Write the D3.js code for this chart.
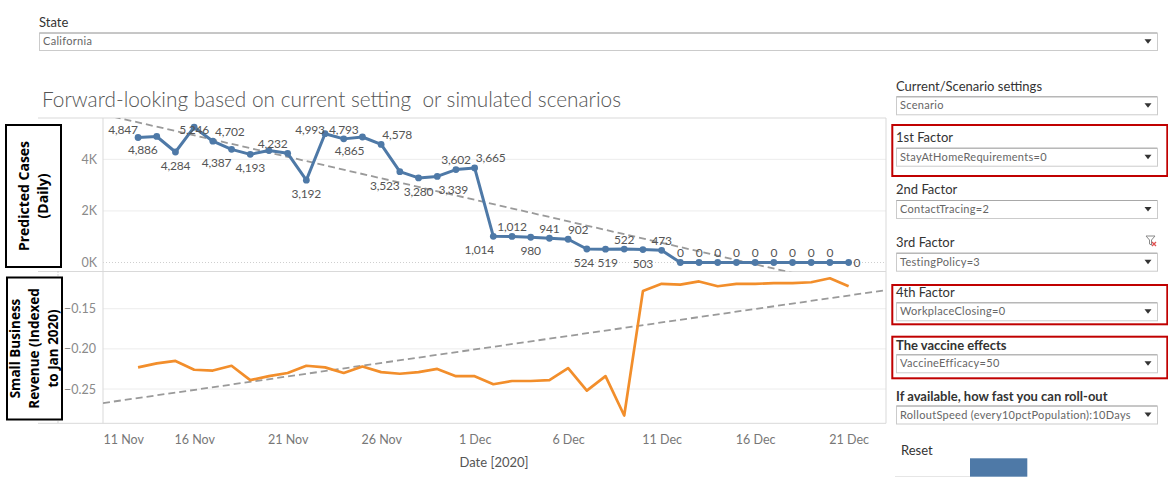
<!DOCTYPE html>
<html>
<head>
<meta charset="utf-8">
<script src="https://cdn.jsdelivr.net/npm/d3@7"></script>
<style>
  body { margin: 0; background: #fff; }
  svg { display: block; font-family: Lato, "Open Sans", sans-serif; }
</style>
</head>
<body>
<svg id="chart" width="1168" height="481"></svg>
<script>
// one value per day, starting at firstDay
const firstDay = "2020-11-13";

const predictedCases = [
  4847, 4886, 4284, 5246, 4702, 4387, 4193, 4340, 4232, 3192,
  4993, 4793, 4865, 4578, 3523, 3280, 3339, 3602, 3665, 1014,
  1012, 980, 941, 902, 524, 519, 522, 503, 473, 0,
  0, 0, 0, 0, 0, 0, 0, 0, 0
];

// where tableau put each mark label: a = above, b = below, r = right, "" = hidden
const caseLabelSide = [
  "a", "b", "b", "a", "a", "b", "b", "", "a", "b",
  "a", "a", "b", "a", "b", "b", "b", "a", "a", "b",
  "a", "b", "a", "a", "b", "b", "a", "b", "a", "a",
  "a", "a", "a", "a", "a", "a", "a", "a", "r"
];
const caseLabelShift = [
  -15, -14, 0, 0, 17, -15, 0, 0, -15, 0,
  -15, 0, -13, 16, -15, 0, 16, 0, 16, -14,
  0, 0, 0, 10, -3, 2, 0, 0, 0, 0,
  0, 0, 0, 0, 0, 0, 0, 0, 0
];

const smallBizRevenue = [
  -0.223, -0.218, -0.215, -0.226, -0.227, -0.221, -0.239, -0.234, -0.230, -0.221,
  -0.223, -0.230, -0.222, -0.229, -0.231, -0.229, -0.225, -0.234, -0.234, -0.244,
  -0.240, -0.240, -0.239, -0.224, -0.252, -0.234, -0.283, -0.128, -0.119, -0.120,
  -0.116, -0.122, -0.119, -0.119, -0.118, -0.118, -0.117, -0.112, -0.122
];

const xTickDates = ["2020-11-11", "2020-11-16", "2020-11-21", "2020-11-26",
  "2020-12-01", "2020-12-06", "2020-12-11", "2020-12-16", "2020-12-21"];
const casesTicks = [0, 2000, 4000];
const revenueTicks = [-0.25, -0.20, -0.15];

const settings = [
  { label: "Current/Scenario settings", value: "Scenario", bold: false },
  { label: "1st Factor", value: "StayAtHomeRequirements=0", bold: false },
  { label: "2nd Factor", value: "ContactTracing=2", bold: false },
  { label: "3rd Factor", value: "TestingPolicy=3", bold: false },
  { label: "4th Factor", value: "WorkplaceClosing=0", bold: false },
  { label: "The vaccine effects", value: "VaccineEfficacy=50", bold: true },
  { label: "If available, how fast you can roll-out", value: "RolloutSpeed (every10pctPopulation):10Days", bold: true }
];

const BLUE = "#4e79a7", ORANGE = "#f28e2b", GRID = "#ececec", BORDER = "#d9d9d9";
const parseDay = d3.timeParse("%Y-%m-%d");
const DAY = 864e5;
const start = parseDay(firstDay);
const dateAt = i => new Date(start.getTime() + i * DAY);

const svg = d3.select("#chart");
svg.append("rect").attr("width", 1168).attr("height", 481).attr("fill", "#fff");
const defs = svg.append("defs");

const left = 103, right = 886;
const top1 = 118, bot1 = 271.5, top2 = 271.5, bot2 = 423.3;

const x = d3.scaleTime()
  .domain([new Date(2020, 10, 11, 3), new Date(2020, 11, 23, 0)])
  .range([left, right]);
const yCases = d3.scaleLinear().domain([-348, 5602]).range([bot1, top1]);
const yRev = d3.scaleLinear().domain([-0.2927, -0.1036]).range([bot2, top2]);

// parameter dropdown, tableau style
function dropdown(x0, y0, w, h, value) {
  const g = svg.append("g");
  g.append("rect").attr("x", x0 + 0.5).attr("y", y0 + 0.5).attr("width", w).attr("height", h)
    .attr("fill", "#fff").attr("stroke", "#cbcbcb");
  g.append("line").attr("x1", x0 + 0.5).attr("x2", x0 + w).attr("y1", y0 + 0.5).attr("y2", y0 + 0.5)
    .attr("stroke", "#a8a8a8");
  const cid = "dd" + Math.round(y0 * 10);
  defs.append("clipPath").attr("id", cid).append("rect")
    .attr("x", x0).attr("y", y0).attr("width", w - 24).attr("height", h);
  g.append("text").attr("clip-path", `url(#${cid})`)
    .attr("x", x0 + 4).attr("y", y0 + h / 2 + 4).attr("font-size", 11).attr("fill", "#666")
    .attr("letter-spacing", 0.3).text(value);
  const ax = x0 + w - 9, ay = y0 + h / 2;
  g.append("path").attr("d", `M${ax - 3.5},${ay - 2}L${ax + 3.5},${ay - 2}L${ax},${ay + 2.5}Z`).attr("fill", "#333");
}

// state filter
svg.append("text").attr("x", 39).attr("y", 27).attr("font-size", 13).attr("fill", "#333").text("State");
dropdown(39, 32.5, 1157 - 39, 17.5, "California");

// title
svg.append("text").attr("x", 42).attr("y", 106.5).attr("font-size", 20.8).attr("font-weight", 300)
  .attr("fill", "#555").style("white-space", "pre")
  .text("Forward-looking based on current setting  or simulated scenarios");

// clip paths for the two panes
defs.append("clipPath").attr("id", "clip1").append("rect")
  .attr("x", left).attr("y", top1).attr("width", right - left).attr("height", bot1 - top1);
defs.append("clipPath").attr("id", "clip2").append("rect")
  .attr("x", left).attr("y", top2).attr("width", right - left).attr("height", bot2 - top2);

// gridlines
svg.append("g").selectAll("line").data(casesTicks).join("line")
  .attr("x1", left).attr("x2", right)
  .attr("y1", d => yCases(d)).attr("y2", d => yCases(d))
  .attr("stroke", d => d === 0 ? "#cfcfcf" : GRID)
  .attr("stroke-dasharray", d => d === 0 ? "1,2" : null);
svg.append("g").selectAll("line").data(revenueTicks).join("line")
  .attr("x1", left).attr("x2", right)
  .attr("y1", d => yRev(d)).attr("y2", d => yRev(d))
  .attr("stroke", GRID);

// pane borders
const borders = svg.append("g").attr("stroke", BORDER).attr("fill", "none");
[top1, bot1, bot2].forEach(y => borders.append("line").attr("x1", 38).attr("x2", right).attr("y1", y).attr("y2", y));
borders.append("line").attr("x1", left).attr("x2", left).attr("y1", top1).attr("y2", bot2);
borders.append("line").attr("x1", right).attr("x2", right).attr("y1", top1).attr("y2", bot2);
svg.append("line").attr("x1", 58).attr("x2", 58).attr("y1", bot1).attr("y2", bot2)
  .attr("stroke", "#aaa").attr("stroke-dasharray", "1,2");

// y axes
const axisCases = svg.append("g").attr("transform", `translate(${left - 6},0)`)
  .call(d3.axisLeft(yCases).tickValues(casesTicks).tickSize(0).tickPadding(0)
    .tickFormat(d => d / 1000 + "K"));
const axisRev = svg.append("g").attr("transform", `translate(${left - 7},0)`)
  .call(d3.axisLeft(yRev).tickValues(revenueTicks).tickSize(0).tickPadding(0)
    .tickFormat(d3.format(".2f")));
[axisCases, axisRev].forEach(g => {
  g.select(".domain").remove();
  g.selectAll("text").attr("font-family", "Lato, sans-serif").attr("font-size", 12.5).attr("fill", "#8a8a8a");
});

// x axis
const xTicks = xTickDates.map(parseDay);
const axisX = svg.append("g").attr("transform", `translate(0,${bot2})`)
  .call(d3.axisBottom(x).tickValues(xTicks).tickSize(0).tickFormat(d3.timeFormat("%-d %b")));
axisX.select(".domain").remove();
axisX.selectAll("text").attr("font-family", "Lato, sans-serif").attr("font-size", 12.5)
  .attr("fill", "#777").attr("y", 12);
axisX.select(".tick text").attr("text-anchor", "start").attr("x", left - x(xTicks[0]));
svg.append("text").attr("x", 494).attr("y", 467).attr("text-anchor", "middle")
  .attr("font-size", 13).attr("fill", "#555").text("Date [2020]");

// least squares trend across the whole axis
function trend(values) {
  const mx = d3.mean(values, (v, i) => i), my = d3.mean(values);
  const sxy = d3.sum(values, (v, i) => (i - mx) * (v - my));
  const sxx = d3.sum(values, (v, i) => (i - mx) * (i - mx));
  const b = sxy / sxx, a = my - b * mx;
  return x.domain().map(d => {
    const t = (d - start) / DAY;
    return [d, a + b * t];
  });
}

function drawTrend(values, yScale, clip) {
  svg.append("path").datum(trend(values))
    .attr("clip-path", `url(#${clip})`)
    .attr("fill", "none").attr("stroke", "#9a9a9a").attr("stroke-width", 1.8)
    .attr("stroke-dasharray", "7,4")
    .attr("d", d3.line().x(d => x(d[0])).y(d => yScale(d[1])));
}

drawTrend(predictedCases, yCases, "clip1");
drawTrend(smallBizRevenue, yRev, "clip2");

// predicted cases line
const cases = predictedCases.map((v, i) => ({ date: dateAt(i), v, i }));
svg.append("path").datum(cases)
  .attr("fill", "none").attr("stroke", BLUE).attr("stroke-width", 3).attr("stroke-linejoin", "round")
  .attr("d", d3.line().x(d => x(d.date)).y(d => yCases(d.v)));
svg.append("g").selectAll("circle").data(cases).join("circle")
  .attr("cx", d => x(d.date)).attr("cy", d => yCases(d.v)).attr("r", 3.4).attr("fill", BLUE);

// mark labels
const fmt = d3.format(",");
svg.append("g").selectAll("text").data(cases.filter(d => caseLabelSide[d.i])).join("text")
  .attr("font-size", 12).attr("fill", "#555").attr("letter-spacing", -0.2)
  .attr("text-anchor", d => caseLabelSide[d.i] === "r" ? "start" : "middle")
  .attr("x", d => {
    const side = caseLabelSide[d.i];
    return x(d.date) + (side === "r" ? 5 : caseLabelShift[d.i]);
  })
  .attr("y", d => {
    const py = yCases(d.v), side = caseLabelSide[d.i];
    if (side === "a") return Math.max(py - 5.5, top1 + 16);
    if (side === "b") return py + 18;
    return py + 4.5;
  })
  .text(d => fmt(d.v));

// small business revenue line
const rev = smallBizRevenue.map((v, i) => ({ date: dateAt(i), v }));
svg.append("path").datum(rev)
  .attr("fill", "none").attr("stroke", ORANGE).attr("stroke-width", 2.7).attr("stroke-linejoin", "round")
  .attr("d", d3.line().x(d => x(d.date)).y(d => yRev(d.v)));

// boxed row titles
function rowTitle(x0, y0, w, h, lines, size, gap) {
  svg.append("rect").attr("x", x0).attr("y", y0).attr("width", w).attr("height", h)
    .attr("fill", "#fff").attr("stroke", "#000").attr("stroke-width", 2);
  const cx = x0 + w / 2, cy = y0 + h / 2;
  const t = svg.append("text").attr("transform", `translate(${cx},${cy}) rotate(-90)`)
    .attr("text-anchor", "middle").attr("font-family", "'Open Sans', sans-serif")
    .attr("font-weight", "bold").attr("font-size", size).attr("fill", "#000");
  lines.forEach((s, k) => {
    t.append("tspan").attr("x", 0).attr("y", (k - (lines.length - 1) / 2) * gap + size * 0.36).text(s);
  });
}
rowTitle(6, 125, 55, 142, ["Predicted Cases", "(Daily)"], 14, 18.5);
rowTitle(7, 277.5, 55, 142, ["Small Business", "Revenue (Indexed", "to Jan 2020)"], 13.5, 19);

// parameter controls on the right
const labelY = [86, 137.7, 189.3, 242, 292.7, 345, 396];
const boxY = [96.3, 147.7, 200, 252.7, 302.3, 354.3, 405.5];
settings.forEach((s, k) => {
  svg.append("text").attr("x", 896).attr("y", labelY[k] + 4.5).attr("font-size", 13)
    .attr("font-weight", s.bold ? "bold" : null).attr("fill", "#333").text(s.label);
  dropdown(896, boxY[k], 261, 18, s.value);
});

// clear-filter icon on 3rd factor
const fi = svg.append("g").attr("transform", "translate(1146,236)");
fi.append("path").attr("d", "M0,0L9,0L5.5,4L5.5,9L3.5,8L3.5,4Z").attr("fill", "none").attr("stroke", "#888").attr("stroke-width", 1);
fi.append("path").attr("d", "M6,6L10,10M10,6L6,10").attr("stroke", "#e05050").attr("stroke-width", 1.3);

// red highlight boxes
[[125, 176], [285, 324.3], [336.7, 378.3]].forEach(([y0, y1]) => {
  svg.append("rect").attr("x", 892.3).attr("y", y0).attr("width", 275).attr("height", y1 - y0)
    .attr("fill", "none").attr("stroke", "#c00000").attr("stroke-width", 2);
});

// reset button
svg.append("text").attr("x", 901).attr("y", 454.5).attr("font-size", 13).attr("fill", "#333").text("Reset");
svg.append("line").attr("x1", 895).attr("x2", 970).attr("y1", 476.5).attr("y2", 476.5).attr("stroke", "#e6e6e6");
svg.append("rect").attr("x", 970).attr("y", 458.3).attr("width", 57.3).attr("height", 18.4).attr("fill", BLUE);
</script>
</body>
</html>
